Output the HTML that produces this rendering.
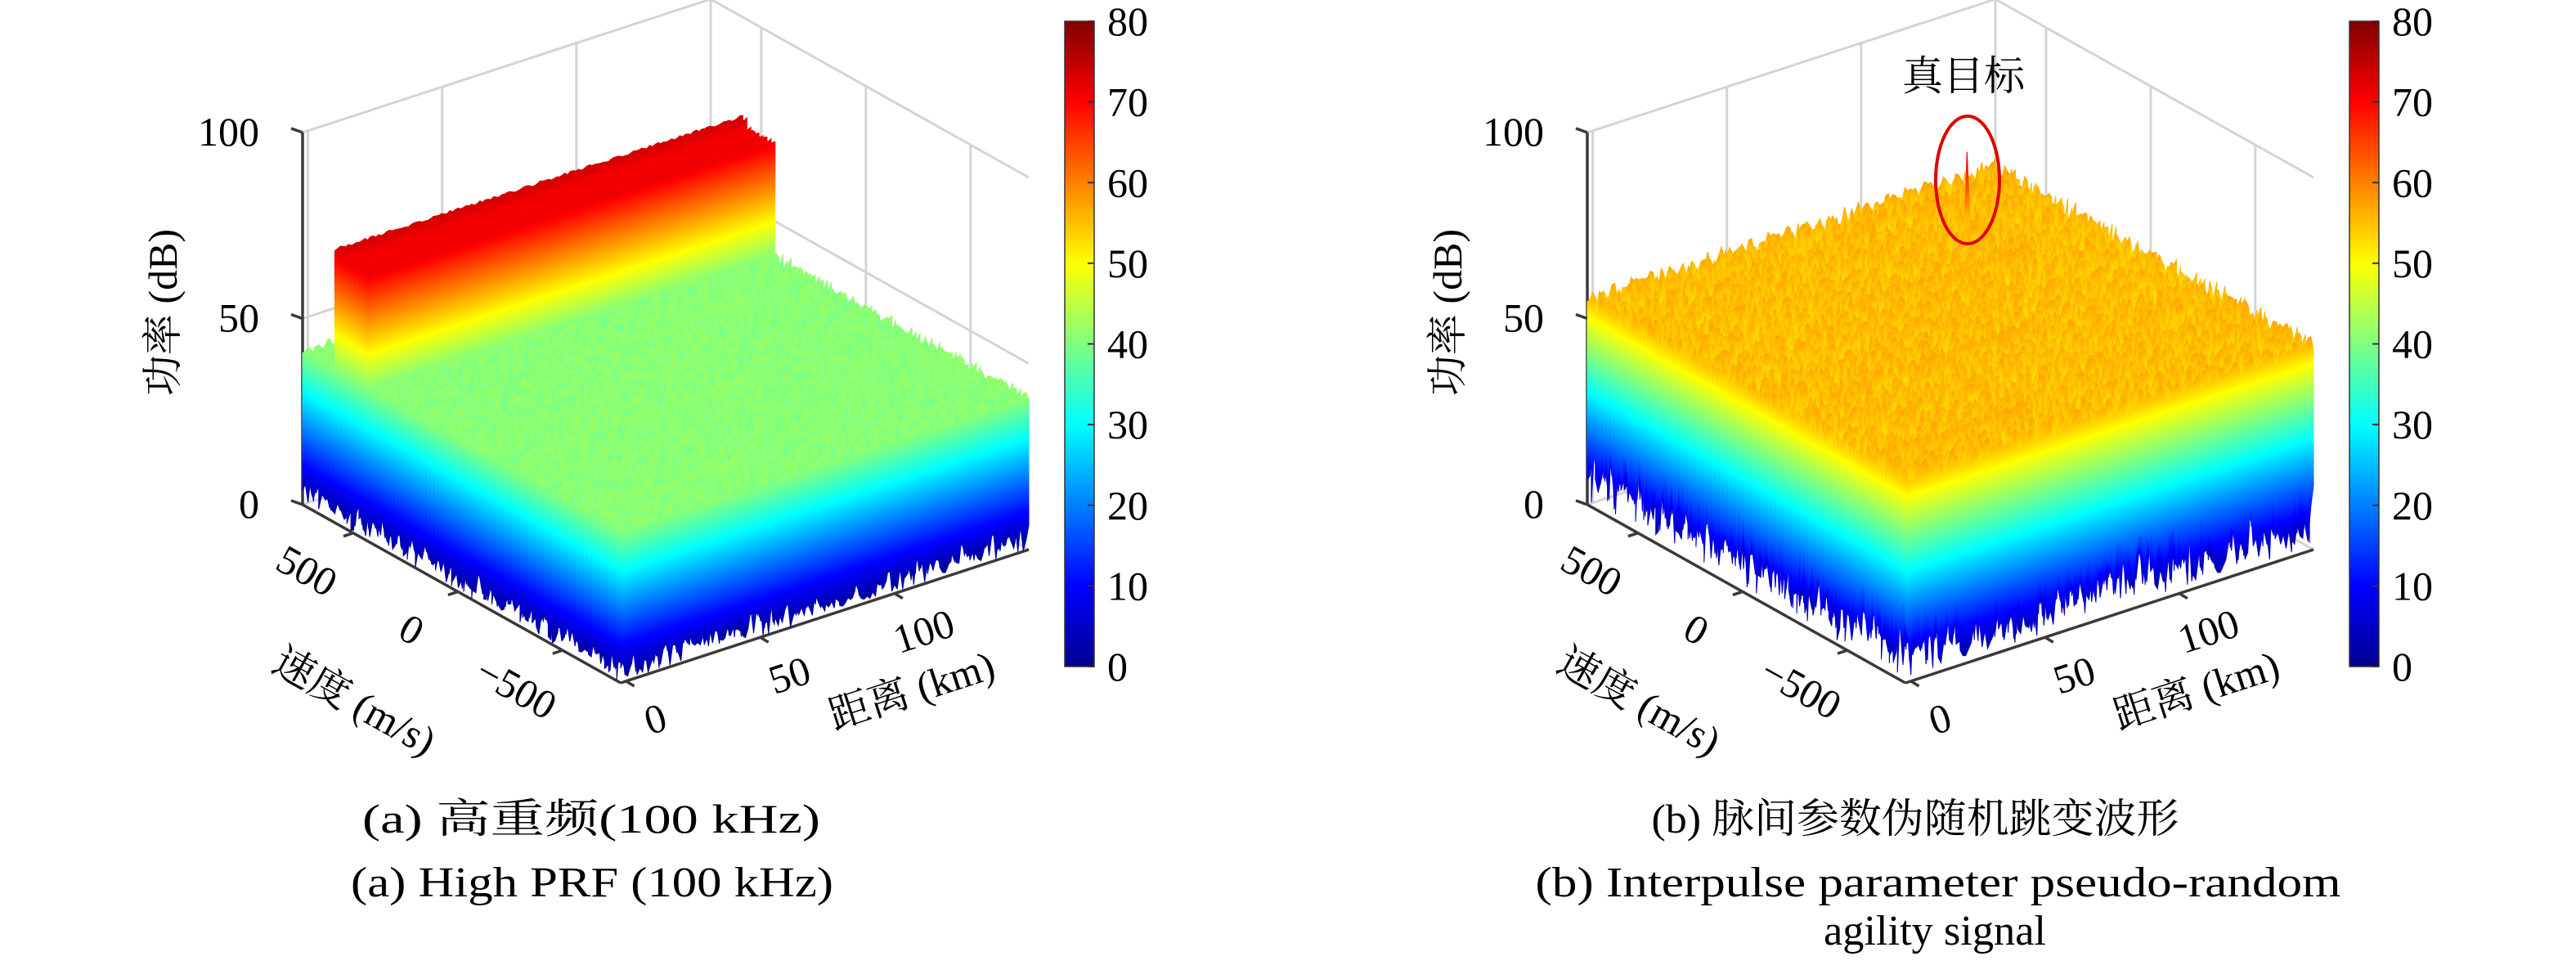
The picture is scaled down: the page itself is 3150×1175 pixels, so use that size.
<!DOCTYPE html>
<html><head><meta charset="utf-8">
<style>
html,body{margin:0;padding:0;background:#fff;}
svg{display:block;}
text{font-family:"Liberation Serif","DejaVu Serif","Noto Serif CJK SC",serif;fill:#000;}
</style></head>
<body>
<svg id="fig" width="3150" height="1175" viewBox="0 0 3150 1175" xmlns="http://www.w3.org/2000/svg" font-family="'Liberation Serif','DejaVu Serif','Noto Serif CJK SC',serif">
<defs id="defs">
<linearGradient id="jetV" x1="0" y1="1" x2="0" y2="0">
<stop offset="0" stop-color="#00008f"/><stop offset="0.125" stop-color="#0000ff"/><stop offset="0.375" stop-color="#00ffff"/><stop offset="0.625" stop-color="#ffff00"/><stop offset="0.875" stop-color="#ff0000"/><stop offset="1" stop-color="#800000"/>
</linearGradient>
</defs>
<g id="plotA"></g>
<g id="plotB"></g>

<text x="723" y="1018" font-size="50" text-anchor="middle" textLength="560" lengthAdjust="spacingAndGlyphs">(a) 高重频(100 kHz)</text>
<text x="724" y="1096" font-size="52" text-anchor="middle" textLength="590" lengthAdjust="spacingAndGlyphs">(a) High PRF (100 kHz)</text>
<text x="2342" y="1018" font-size="50" text-anchor="middle" textLength="645" lengthAdjust="spacingAndGlyphs">(b) 脉间参数伪随机跳变波形</text>
<text x="2370" y="1096" font-size="52" text-anchor="middle" textLength="985" lengthAdjust="spacingAndGlyphs">(b) Interpulse parameter pseudo-random</text>
<text x="2366" y="1155" font-size="52" text-anchor="middle" textLength="272" lengthAdjust="spacingAndGlyphs">agility signal</text>
</svg>
<script>
// ---- data ----
const velTicks = [500, 0, -500];
const rangeTicks = [0, 50, 100];
const zTicks = [0, 50, 100];
const cbTicks = [0, 10, 20, 30, 40, 50, 60, 70, 80];
// panel a: clutter floor, main-lobe clutter wall (velocity band, level)
const clutterLevelA = [41];
const wallVelA = [600, 560, 420];
const wallLevelA = [73, 71];
// panel b: uniform noise floor and true target
const floorLevelB = [55];
const targetRange = [121];
const targetVel = [502];
const targetLevel = [73];
// hand-read jitter pattern of the noisy mesh lines (0..1)
const jitter = [0.42,0.91,0.13,0.66,0.28,0.77,0.05,0.58,0.95,0.33,0.71,0.19,0.84,0.47,0.02,0.63,0.38,0.88,0.24,0.55,0.09,0.73,0.97,0.31,0.6,0.15,0.81,0.44,0.69,0.26,0.92,0.07,0.52,0.36,0.79,0.21,0.64,0.99,0.11,0.49,0.86,0.3,0.57,0.17,0.75,0.4,0.03,0.68,0.23,0.94];

// ---- axes geometry ----
const RMIN=-2, RMAX=150, VMAX=742, VMIN=-778;
const NS="http://www.w3.org/2000/svg";
const FONT="'Liberation Serif','DejaVu Serif','Noto Serif CJK SC',serif";
function mk(tag, attrs, parent){const e=document.createElementNS(NS,tag);for(const k in attrs)e.setAttribute(k,attrs[k]);if(tag==='text')e.setAttribute('font-family',FONT);parent.appendChild(e);return e;}
function proj(ox, r, v, z){
  const fr=(r-RMIN)/(RMAX-RMIN), fv=(VMAX-v)/(VMAX-VMIN);
  return [ox+fr*499+fv*389, 617-fr*163+fv*218-z*4.55];
}
function jit(i,j){return jitter[(i*7+j*13+((i*j)%11))%jitter.length];}

const defs=document.getElementById('defs');

function drawPanel(g, ox, topFn, botFn, tag){
  const P=(r,v,z)=>proj(ox,r,v,z);
  const grid='#d4d4d4';
  const cR=P(RMAX,VMIN,0);
  zTicks.forEach(z=>{
    const a=P(RMIN,VMAX,z), b=P(RMAX,VMAX,z), c=P(RMAX,VMIN,z);
    const l=mk('polyline',{points:`${a} ${b} ${c}`,fill:'none',stroke:grid,'stroke-width':3},g);
    
    
  });
  rangeTicks.forEach(r=>{
    const a=P(r,VMAX,0), b=P(r,VMAX,100);
    const l=mk('line',{x1:a[0],y1:a[1],x2:b[0],y2:b[1],stroke:grid,'stroke-width':3},g);
    
    
  });
  velTicks.forEach(v=>{
    const a=P(RMAX,v,0), b=P(RMAX,v,100);
    const l=mk('line',{x1:a[0],y1:a[1],x2:b[0],y2:b[1],stroke:grid,'stroke-width':3},g);
    
    
  });
  const t1=P(RMAX,VMAX,0), t2=P(RMAX,VMAX,100);
  const bl=mk('line',{x1:t1[0],y1:t1[1],x2:t2[0],y2:t2[1],stroke:grid,'stroke-width':3},g);
  
  

  const ax='#3a3a3a';
  const a0=P(RMIN,VMAX,0), a1=P(RMIN,VMAX,100), f0=P(RMIN,VMIN,0);
  const zAxis=mk('line',{x1:a0[0],y1:a0[1],x2:a1[0],y2:a1[1],stroke:ax,'stroke-width':3.5},g);
  
  
  const vAxis=mk('line',{x1:a0[0],y1:a0[1],x2:f0[0],y2:f0[1],stroke:ax,'stroke-width':3.5},g);
  
  
  const rAxis=mk('line',{x1:f0[0],y1:f0[1],x2:cR[0],y2:cR[1],stroke:ax,'stroke-width':3.5},g);
  
  

  const N=80, M=150;
  const surf=mk('g',{},g);
  
  
  const ux=0.3105, uy=0.9505, L=4.325*80;
  for(let i=0;i<N;i++){
    const v=VMAX-(VMAX-VMIN)*i/(N-1);
    const p0=P(RMIN,v,0);
    const gid=`${tag}g${i}`;
    const lg=mk('linearGradient',{id:gid,gradientUnits:'userSpaceOnUse',x1:p0[0],y1:p0[1],x2:p0[0]-ux*L,y2:p0[1]-uy*L},defs);
    [['0','#00008f'],['0.125','#0000ff'],['0.375','#00ffff'],['0.625','#ffff00'],['0.875','#ff0000'],['1','#800000']].forEach(s=>mk('stop',{offset:s[0],'stop-color':s[1]},lg));
    let top=[], bot=[];
    for(let j=0;j<M;j++){
      const r=RMIN+(RMAX-RMIN)*j/(M-1);
      top.push(P(r,v,topFn(r,v,i,j)).map(n=>n.toFixed(1)).join(','));
      bot.push(P(r,v,botFn(r,v,i,j)).map(n=>n.toFixed(1)).join(','));
    }
    const d='M'+top.join(' L')+' L'+bot.reverse().join(' L')+'Z';
    const path=mk('path',{d:d,fill:`url(#${gid})`,stroke:`url(#${gid})`,'stroke-width':1},surf);
    
    
  }

  zTicks.forEach(z=>{
    const p=P(RMIN,VMAX,z);
    const t=mk('line',{x1:p[0]-14,y1:p[1]-5,x2:p[0],y2:p[1],stroke:ax,'stroke-width':3.5},g);
    
    
    const tx=mk('text',{x:p[0]-53,y:p[1]+16,'font-size':50,'text-anchor':'end'},g);
    tx.textContent=z;
    
    
  });
  velTicks.forEach(v=>{
    const p=P(RMIN,v,0);
    const t=mk('line',{x1:p[0],y1:p[1],x2:p[0]-12,y2:p[1]+4,stroke:ax,'stroke-width':3.5},g);
    
    
    const x=p[0]-57, y=p[1]+47;
    const tx=mk('text',{x:x,y:y+16,'font-size':50,'text-anchor':'middle',transform:`rotate(29 ${x} ${y})`},g);
    tx.textContent=v<0?'−'+Math.abs(v):String(v);
    
    
  });
  rangeTicks.forEach(r=>{
    const p=P(r,VMIN,0);
    const t=mk('line',{x1:p[0],y1:p[1],x2:p[0]+10,y2:p[1]+6,stroke:ax,'stroke-width':3.5},g);
    
    
    const x=p[0]+36, y=p[1]+47;
    const tx=mk('text',{x:x,y:y+16,'font-size':50,'text-anchor':'middle',transform:`rotate(-18 ${x} ${y})`},g);
    tx.textContent=r;
    
    
  });
  let x=ox-170, y=382;
  let lab=mk('text',{x:x,y:y+16,'font-size':50,'text-anchor':'middle',transform:`rotate(-90 ${x} ${y})`},g);
  lab.textContent='功率 (dB)';
  
  
  x=ox+63; y=858;
  lab=mk('text',{x:x,y:y+16,'font-size':50,'text-anchor':'middle',transform:`rotate(29 ${x} ${y})`},g);
  lab.textContent='速度 (m/s)';
  
  
  x=ox+745; y=845;
  lab=mk('text',{x:x,y:y+16,'font-size':50,'text-anchor':'middle',transform:`rotate(-18 ${x} ${y})`},g);
  lab.textContent='距离 (km)';
  
  

  const cbx=ox+932, cbTop=26, cbBot=815;
  const cb=mk('rect',{x:cbx,y:cbTop,width:36,height:cbBot-cbTop,fill:'url(#jetV)',stroke:'#333','stroke-width':1.5},g);
  
  
  cbTicks.forEach(c=>{
    const yy=cbBot-(cbBot-cbTop)*c/80;
    const t=mk('line',{x1:cbx+28,y1:yy,x2:cbx+36,y2:yy,stroke:'#333','stroke-width':2},g);
    
    
    const tx=mk('text',{x:cbx+52,y:yy+17,'font-size':50},g);
    tx.textContent=c;
    
    
  });
}

drawPanel(document.getElementById('plotA'),370,
  (r,v,i,j)=>{
    if(v<=wallVelA[0]&&v>wallVelA[1]) return wallLevelA[0]+jit(i,j)*0.8;
    if(v<=wallVelA[1]&&v>=wallVelA[2]) return wallLevelA[1]+jit(i,j)*0.8;
    return clutterLevelA[0]-1.5+jit(i,j)*3;
  },
  (r,v,i,j)=>jit(j,i)*9,'a');

drawPanel(document.getElementById('plotB'),1941,
  (r,v,i,j)=>{
    const dv=(VMAX-VMIN)/79, dr=(RMAX-RMIN)/149;
    if(Math.abs(r-targetRange[0])<dr/2 && Math.abs(v-targetVel[0])<dv/2) return targetLevel[0];
    return floorLevelB[0]-2.5+jit(i,j)*5;
  },
  (r,v,i,j)=>22-jit(j+3,i)*21,'b');

const gB=document.getElementById('plotB');
const ell=mk('ellipse',{cx:2406,cy:220,rx:39,ry:78,fill:'none',stroke:'#e00000','stroke-width':4},gB);


const ann=mk('text',{x:2401,y:110,'font-size':50,'text-anchor':'middle'},gB);
ann.textContent='真目标';


</script>
</body></html>
